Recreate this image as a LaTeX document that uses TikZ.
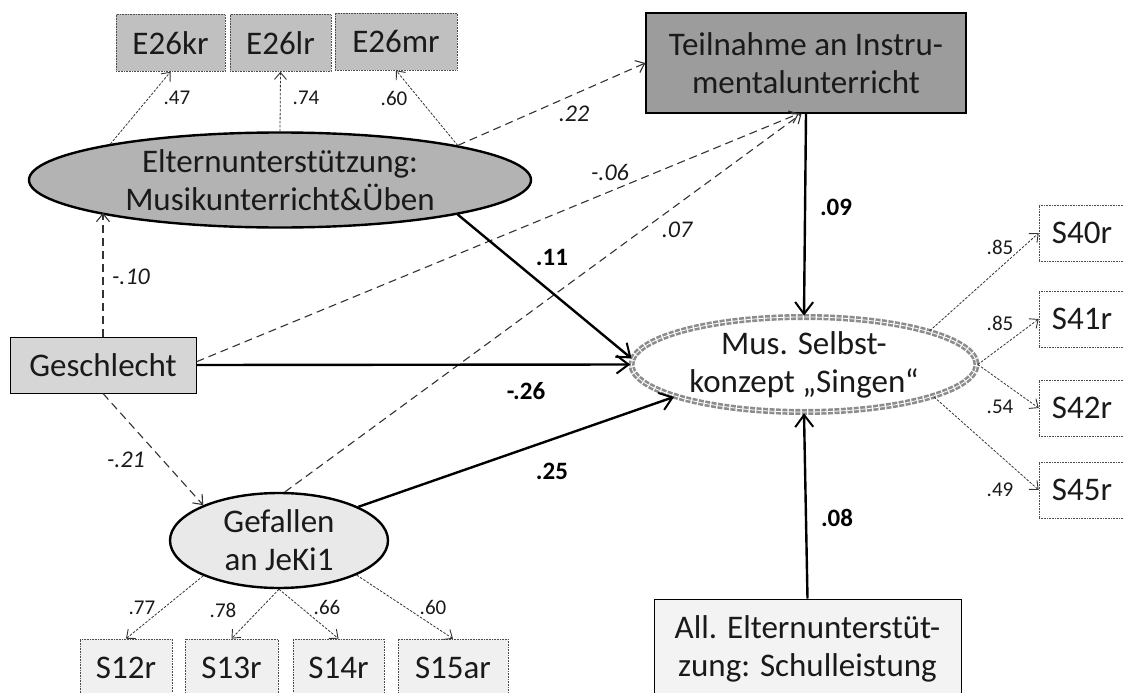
\documentclass[tikz,border=0pt]{standalone}
\usepackage{fontspec}
\setmainfont{Carlito}
\usetikzlibrary{arrows.meta,shapes.geometric}
\definecolor{txt}{HTML}{1A1A1A}
\definecolor{gTeil}{HTML}{9C9C9C}
\definecolor{gElt}{HTML}{B3B3B3}
\definecolor{gE}{HTML}{C0C0C0}
\definecolor{gGes}{HTML}{D6D6D6}
\definecolor{gGef}{HTML}{E9E9E9}
\definecolor{gS}{HTML}{F0F0F0}
\definecolor{gAll}{HTML}{F3F3F3}
\tikzset{
  mainfont/.style={font=\fontsize{33}{38}\selectfont, text=txt, align=center, inner sep=0pt},
  obsbox/.style={mainfont, rectangle, draw=black!70, densely dotted, line width=0.6pt},
  solidbox/.style={mainfont, rectangle, draw=black, line width=1pt},
  latent/.style={mainfont, ellipse, draw=black, line width=2.4pt},
  pathsolid/.style={draw=black, line width=2.4pt, -{Straight Barb[length=12pt,width=18pt,line width=2pt]}},
  pathdash/.style={draw=black!80, line width=1.1pt, dash pattern=on 8pt off 5pt, -{Straight Barb[length=8pt,width=13pt,line width=1.1pt]}},
  loaddot/.style={draw=black!80, line width=0.8pt, dash pattern=on 2.5pt off 1.5pt, -{Straight Barb[length=7pt,width=12pt,line width=0.9pt]}},
  smalllab/.style={font=\fontsize{21}{22}\selectfont, text=txt, inner sep=0pt},
  boldlab/.style={font=\fontsize{25}{26}\selectfont\bfseries, text=black, inner sep=0pt},
  itlab/.style={font=\fontsize{24}{25}\selectfont\itshape, text=txt, inner sep=0pt},
}
\begin{document}
\begin{tikzpicture}[x=1pt,y=-1pt]
\clip (0,0) rectangle (1124,693);
\fill[white] (0,0) rectangle (1124,693);
% nodes
\node[obsbox, fill=gE, minimum width=109pt, minimum height=57pt] (e1) at (170.5,43) {E26kr};
\node[obsbox, fill=gE, minimum width=101pt, minimum height=57pt] (e2) at (280.5,43) {E26lr};
\node[obsbox, fill=gE, minimum width=122pt, minimum height=57pt] (e3) at (396,41.5) {E26mr};
\node[solidbox, fill=gTeil, minimum width=320pt, minimum height=100pt, line width=1.2pt] (teil) at (806,63) {Teilnahme an Instru-\\mentalunterricht};
\node[latent, fill=gElt, minimum width=502pt, minimum height=95pt] (elt) at (280,180) {Elternunterstützung:\\Musikunterricht\&Üben};
\node[solidbox, fill=gGes, minimum width=186pt, minimum height=56pt] (ges) at (103,365) {Geschlecht};
\node[latent, fill=gGef, minimum width=218pt, minimum height=95pt] (gef) at (279,540.5) {Gefallen\\an JeKi1};
\node[mainfont, ellipse, draw=black!45, line width=2.6pt, dash pattern=on 5pt off 1.5pt, double=white, double distance=0.8pt, minimum width=345pt, minimum height=95pt] (sel) at (804,364.5) {Mus. Selbst-\\konzept „Singen“};
\node[solidbox, fill=gAll, minimum width=307pt, minimum height=100pt] (all) at (807.5,649) {All. Elternunterstüt-\\zung: Schulleistung};
\node[obsbox, fill=gS, minimum width=92pt, minimum height=57pt] (s12) at (126,667.5) {S12r};
\node[obsbox, fill=gS, minimum width=93pt, minimum height=57pt] (s13) at (231.5,667.5) {S13r};
\node[obsbox, fill=gS, minimum width=91pt, minimum height=57pt] (s14) at (338.5,667.5) {S14r};
\node[obsbox, fill=gS, minimum width=110pt, minimum height=57pt] (s15) at (453,667.5) {S15ar};
\node[obsbox, fill=white, minimum width=86pt, minimum height=56pt] (s40) at (1082,233) {S40r};
\node[obsbox, fill=white, minimum width=86pt, minimum height=56pt] (s41) at (1082,319) {S41r};
\node[obsbox, fill=white, minimum width=86pt, minimum height=56pt] (s42) at (1082,408) {S42r};
\node[obsbox, fill=white, minimum width=86pt, minimum height=56pt] (s45) at (1082,490) {S45r};
% loadings
\draw[loaddot] (elt.168.6) -- (e1.south);
\draw[loaddot] (elt.north) -- (e2.south);
\draw[loaddot] (elt.11.3) -- (e3.south);
\draw[loaddot] (gef.205.4) -- (s12.north);
\draw[loaddot] (gef.south) -- (s13.north);
\draw[loaddot] (gef.south) -- (s14.north);
\draw[loaddot] (gef.-24.8) -- (s15.north);
\draw[loaddot] (sel.15.3) -- (s40.west);
\draw[loaddot] (sel.east) -- (s41.west);
\draw[loaddot] (sel.east) -- (s42.west);
\draw[loaddot] (sel.-14.8) -- (s45.west);
% dashed paths
\draw[pathdash] (elt.11.6) -- (teil.west);
\draw[pathdash] (ges.2) -- (teil.262);
\draw[pathdash] (gef.83) -- (teil.265);
\draw[pathdash] (ges.north) -- (ges.north |- elt.190.8);
\draw[pathdash] (ges.south) -- (gef.155.8);
% solid paths
\draw[pathsolid] (teil.south) -- (sel.north);
\draw[pathsolid] (all.north) -- (sel.south);
\draw[pathsolid] (ges.east) -- (sel.west);
\draw[pathsolid] (elt.-11.1) -- (sel.178.5);
\draw[pathsolid] (gef.23) -- (sel.194.9);
% labels
\node[smalllab] (l47) at (177,98) {.47};
\node[smalllab] (l74) at (306,98) {.74};
\node[smalllab] (l60a) at (394,98) {.60};
\node[smalllab] (l77) at (142,608) {.77};
\node[smalllab] (l78) at (223,610) {.78};
\node[smalllab] (l66) at (327,607) {.66};
\node[smalllab] (l60b) at (433,607) {.60};
\node[smalllab] (l85a) at (1000,247) {.85};
\node[smalllab] (l85b) at (1000,323) {.85};
\node[smalllab] (l54) at (1000,407) {.54};
\node[smalllab] (l49) at (1000,490) {.49};
\node[itlab] (l22) at (574,114) {.22};
\node[itlab] (l06) at (610,172) {-.06};
\node[itlab] (l07) at (677,230) {.07};
\node[itlab] (l10) at (131,277) {-.10};
\node[itlab] (l21) at (126,460) {-.21};
\node[boldlab] (l11) at (552,257) {.11};
\node[boldlab] (l09) at (836,207) {.09};
\node[boldlab] (l26) at (526,391) {-.26};
\node[boldlab] (l25) at (552,471) {.25};
\node[boldlab] (l08) at (837,518) {.08};
\end{tikzpicture}
\end{document}
